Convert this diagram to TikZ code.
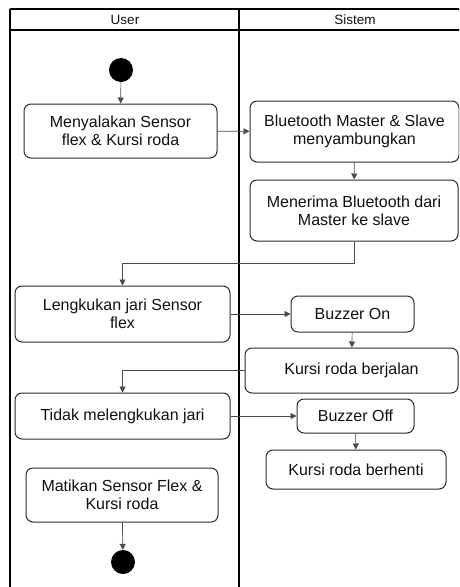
\documentclass[tikz,border=0pt]{standalone}
\usepackage{fontspec}
\setmainfont{Liberation Sans}
\usetikzlibrary{arrows.meta,calc,positioning}
\definecolor{BoxLine}{HTML}{2B2B2B}
\definecolor{Wire}{HTML}{4A4A4A}
\definecolor{Ink}{HTML}{111111}

\begin{document}
\begin{tikzpicture}[x=1pt,y=-1pt,
  act/.style={draw=BoxLine,line width=1pt,rounded corners=7pt,fill=white,align=center,text=Ink,inner sep=2pt,font=\fontsize{16}{18}\selectfont},
  dot/.style={circle,fill=black,minimum size=24pt,inner sep=0pt},
  lane/.style={line width=2.2pt,draw=black},
  arr/.style={-{Triangle[length=6pt,width=6pt]},draw=Wire,line width=0.7pt}
]
\useasboundingbox (0,0) rectangle (459,587);
\clip (0,0) rectangle (459,587);
% swimlanes
\draw[lane] (10,9) -- (470,9);
\draw[lane] (10,30) -- (470,30);
\draw[lane] (10,9) -- (10,590);
\draw[lane] (239,9) -- (239,590);
\node[font=\fontsize{13.5}{15}\selectfont,text=Ink] (hUser) at (125,20) {User};
\node[font=\fontsize{13.5}{15}\selectfont,text=Ink] (hSistem) at (355,20) {Sistem};

\node[dot] (start) at (121,70) {};
\node[act,minimum width=193pt,minimum height=54pt] (menyala) at (120.5,131) {Menyalakan Sensor\\flex \& Kursi roda};
\node[act,minimum width=209pt,minimum height=61pt] (bluetooth) at (354.5,131.5) {Bluetooth Master \& Slave\\menyambungkan};
\node[act,minimum width=208pt,minimum height=61pt] (menerima) at (354,210.5) {Menerima Bluetooth dari\\Master ke slave};
\node[act,minimum width=215pt,minimum height=56pt] (lengkuk) at (122.5,314) {Lengkukan jari Sensor\\flex};
\node[act,minimum width=123pt,minimum height=36pt] (buzzon) at (352.5,314) {Buzzer On};
\node[act,minimum width=213pt,minimum height=45pt] (berjalan) at (351.5,370.5) {Kursi roda berjalan};
\node[act,minimum width=215pt,minimum height=46pt] (tidak) at (122.5,416) {Tidak melengkukan jari};
\node[act,minimum width=117pt,minimum height=34pt] (buzzoff) at (355.5,416) {Buzzer Off};
\node[act,minimum width=180pt,minimum height=39pt] (berhenti) at (356,469.5) {Kursi roda berhenti};
\node[act,minimum width=192pt,minimum height=54pt] (matikan) at (122,495) {Matikan Sensor Flex \&\\Kursi roda};
\node[dot] (finish) at (123,562) {};

\draw[arr] (start) -- (menyala);
\draw[arr] (menyala) -- (bluetooth);
\draw[arr] (bluetooth) -- (menerima);
\draw[arr] (menerima.south) -- ++(0,22) -| (lengkuk.north);
\draw[arr] (lengkuk) -- (buzzon);
\draw[arr] (buzzon) -- (berjalan);
\draw[arr] (berjalan.west) -| (tidak.north);
\draw[arr] (tidak) -- (buzzoff);
\draw[arr] (buzzoff) -- (berhenti);
\draw[arr] (matikan) -- (finish);
\end{tikzpicture}
\end{document}
